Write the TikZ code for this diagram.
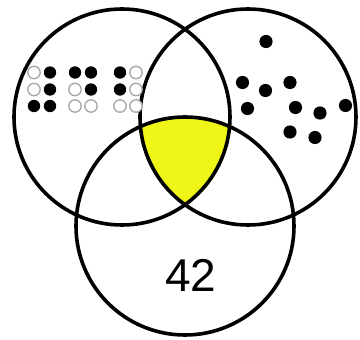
\documentclass[tikz,border=0pt]{standalone}
\usepackage{fontspec}
\setmainfont{Liberation Sans}
\usepackage{tikz}
\usetikzlibrary{positioning,calc}
\definecolor{venyellow}{RGB}{240,245,24}

\tikzset{
  ring/.style={draw=black,line width=3.6pt},
  braillon/.style={fill=black},
  brailloff/.style={draw=black!35,line width=1.3pt,fill=white},
  grain/.style={fill=black}
}

\begin{document}
\begin{tikzpicture}[x=1pt,y=-1pt]
  \useasboundingbox (0,0) rectangle (360,340);
  \begin{scope}
    \clip (122,117) circle[radius=108pt];
    \clip (248,117) circle[radius=108pt];
    \fill[venyellow] (185,226) circle[radius=109pt];
  \end{scope}
  \draw[ring] (122,117) circle[radius=108pt];
  \draw[ring] (248,117) circle[radius=108pt];
  \draw[ring] (185,226) circle[radius=109pt];
  \foreach \cx/\pa/\pb/\pc/\pd/\pe/\pf in
    {34/brailloff/brailloff/braillon/braillon/braillon/braillon,
     75/braillon/brailloff/brailloff/braillon/braillon/brailloff,
     120/braillon/braillon/brailloff/brailloff/brailloff/brailloff} {
    \foreach \y/\l/\r in {72.5/\pa/\pd, 89.5/\pb/\pe, 106/\pc/\pf} {
      \path[\l] (\cx,\y) circle[radius=6.2pt];
      \path[\r] (\cx+16,\y) circle[radius=6.2pt];
    }
  }
  \foreach \x/\y in {266/41.5, 242.5/82.5, 265.5/90.5, 290/82.5, 247.5/108.5,
                     295.5/107.5, 320/113, 345.5/105.5, 290/132, 315/137.5}
    \path[grain] (\x,\y) circle[radius=6.6pt];
  \node (num) at (191,275) {\fontsize{46}{46}\selectfont 42};
\end{tikzpicture}
\end{document}
